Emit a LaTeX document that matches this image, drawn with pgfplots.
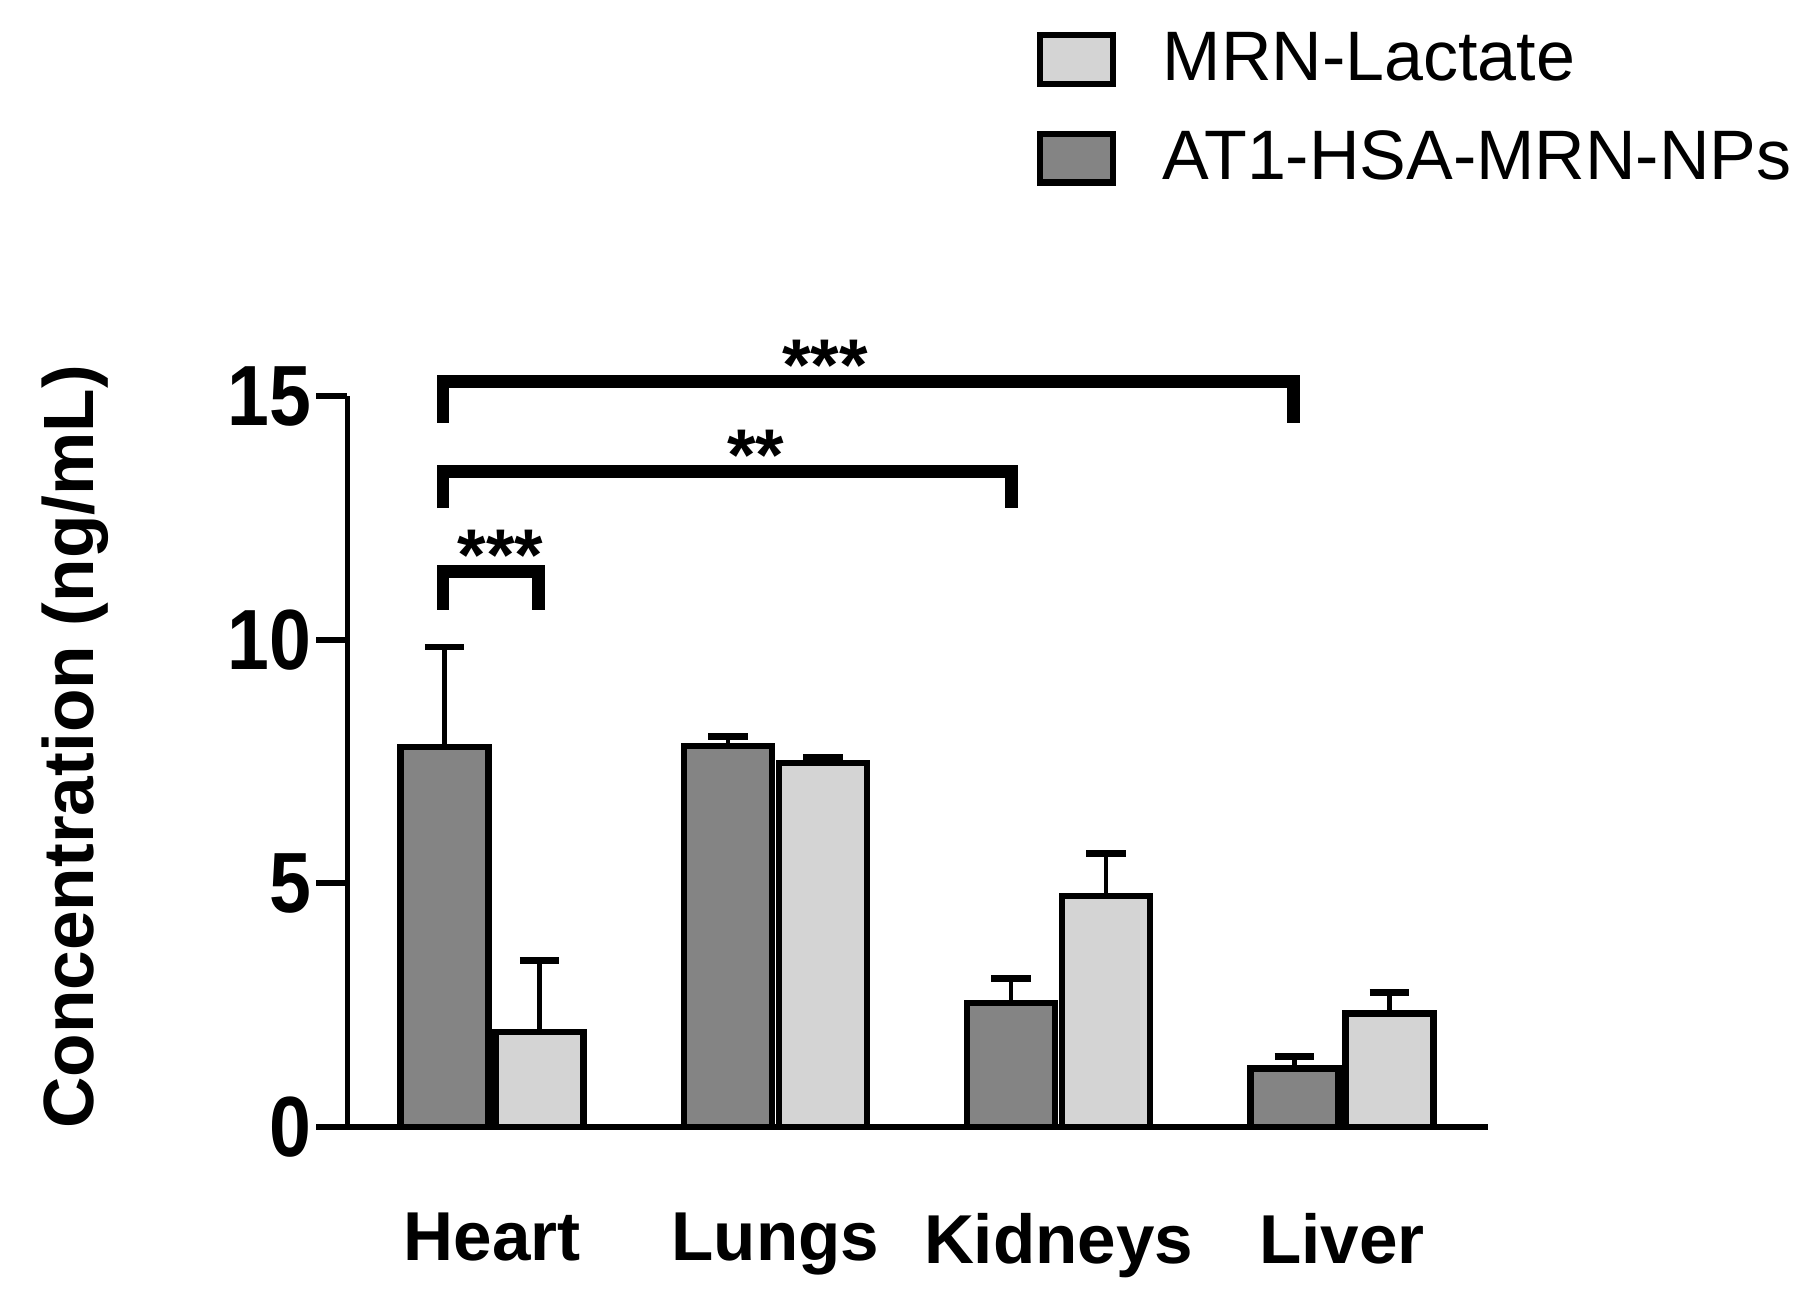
\documentclass[border=0pt]{standalone}
\usepackage{pgfplots}
\pgfplotsset{compat=1.18}
\usepackage{fontspec}
\setmainfont{Liberation Sans}
\newfontfamily\tickfont[FakeStretch=0.88]{Liberation Sans}
\definecolor{darkbar}{HTML}{848484}
\definecolor{lightbar}{HTML}{D4D4D4}
\newcommand{\fs}[1]{\fontsize{#1}{#1}\selectfont}
\pgfplotsset{
  errstyle/.style={
    error bars/y dir=plus,
    error bars/y explicit,
    error bars/error bar style={line width=1.1pt, black},
    error bars/error mark options={rotate=90, line width=1.7pt, mark size=1.7mm, black},
  }
}
\begin{document}
\begin{tikzpicture}
\useasboundingbox (-30mm,-14.9mm) rectangle (126.8mm,97.3mm);
\begin{axis}[
  scale only axis,
  width=98.5mm,
  height=63.1mm,
  ybar,
  bar width=7.6mm,
  ymin=0, ymax=15,
  xmin=-0.511, xmax=3.517,
  clip=false,
  axis lines*=left,
  axis line style={line width=1.4pt},
  ytick={0,5,10,15},
  tick align=outside,
  major tick length=2.7mm,
  ytick style={line width=1.4pt, black},
  xtick={0,1,2,3},
  xticklabels={Heart,Lungs,Kidneys,Liver},
  xtick style={draw=none},
  /pgf/number format/assume math mode=true,
  yticklabel style={font=\tickfont\fs{21pt}\bfseries, inner sep=1pt},
  xticklabel style={font=\fs{17pt}\bfseries, yshift=-3.5mm},
  ylabel={Concentration (ng/mL)},
  ylabel style={font=\fs{17.5pt}\bfseries, at={(axis description cs:-0.2386,0.52)}, anchor=center},
  legend style={draw=none, fill=none, at={(axis description cs:0.604,1.51)}, anchor=north west,
    font=\fs{17.2pt}, row sep=2.4mm, inner sep=0pt,
    /tikz/every odd column/.append style={column sep=3.3mm}},
  legend cell align=left,
  reverse legend,
  legend image code/.code={\draw[#1, line width=1.5pt] (0mm,-2.1mm) rectangle (6.3mm,2.1mm);},
  every axis plot/.append style={draw=black, line width=1.6pt},
]
\addplot[fill=darkbar, bar shift=-4.1mm, errstyle] coordinates {
  (0,7.80) +- (0,2.05)
  (1,7.82) +- (0,0.20)
  (2,2.54) +- (0,0.50)
  (3,1.20) +- (0,0.25)
};
\addplot[fill=lightbar, bar shift=4.1mm, errstyle] coordinates {
  (0,1.95) +- (0,1.47)
  (1,7.47) +- (0,0.11)
  (2,4.74) +- (0,0.87)
  (3,2.33) +- (0,0.42)
};
\legend{AT1-HSA-MRN-NPs, MRN-Lactate}
% significance brackets
\draw[line width=1.1mm, line cap=butt, line join=miter]
  (axis cs:-0.174,14.45) -- (axis cs:-0.174,15.3) -- (axis cs:2.83,15.3) -- (axis cs:2.83,14.45);
\draw[line width=1.1mm, line cap=butt, line join=miter]
  (axis cs:-0.174,12.70) -- (axis cs:-0.174,13.46) -- (axis cs:1.834,13.46) -- (axis cs:1.834,12.70);
\draw[line width=1.1mm, line cap=butt, line join=miter]
  (axis cs:-0.174,10.62) -- (axis cs:-0.174,11.40) -- (axis cs:0.164,11.40) -- (axis cs:0.164,10.62);
\node[anchor=base, inner sep=0pt, yshift=-0.8mm, font=\fs{18pt}\bfseries] at (axis cs:1.175,15.3) {***};
\node[anchor=base, inner sep=0pt, yshift=-0.8mm, font=\fs{18pt}\bfseries] at (axis cs:0.93,13.46) {**};
\node[anchor=base, inner sep=0pt, yshift=-0.8mm, font=\fs{18pt}\bfseries] at (axis cs:0.03,11.40) {***};
\end{axis}
\end{tikzpicture}
\end{document}
